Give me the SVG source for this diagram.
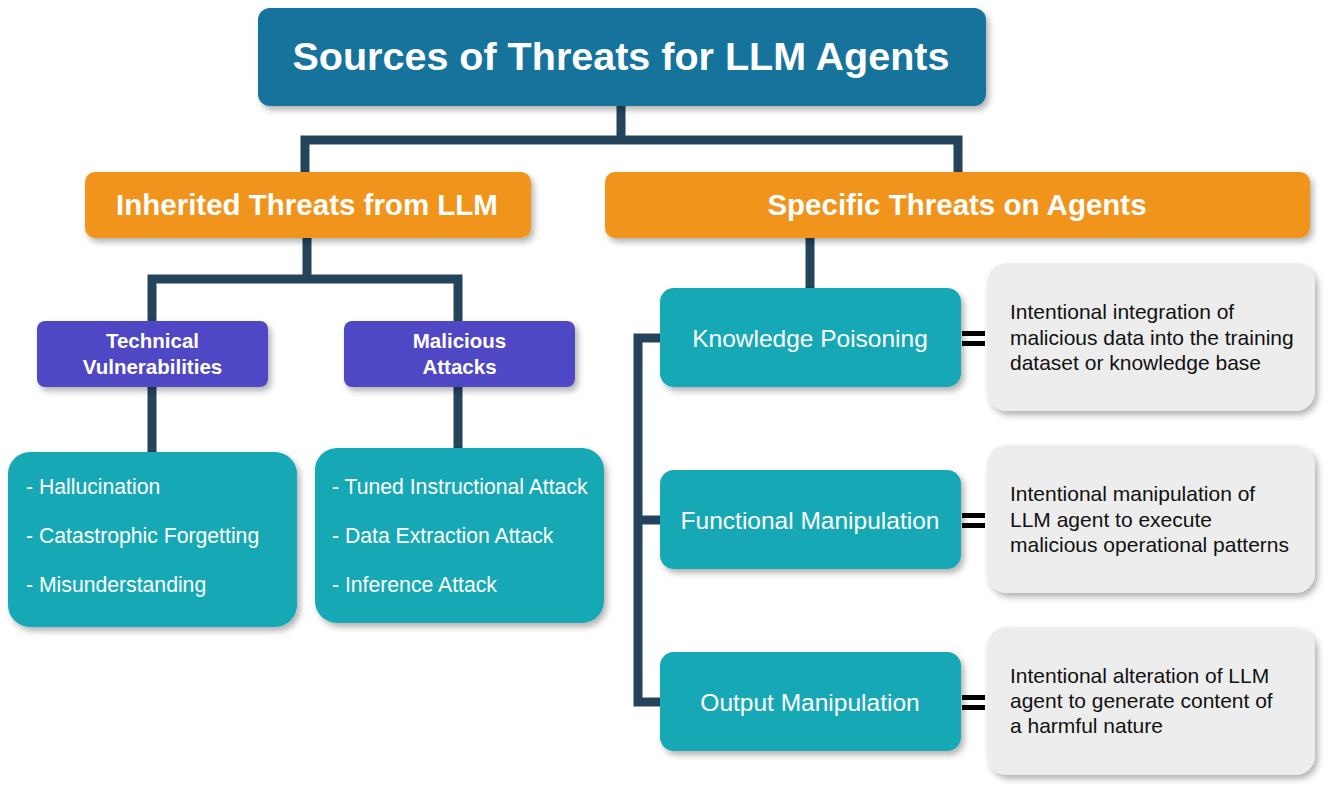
<svg xmlns="http://www.w3.org/2000/svg" width="1328" height="793" viewBox="0 0 1328 793">
<defs>
<filter id="sh" x="-10%" y="-10%" width="125%" height="135%">
<feDropShadow dx="3" dy="4" stdDeviation="3" flood-color="#000" flood-opacity="0.3"/>
</filter>
<style>
.t{font-family:"Liberation Sans",Arial,sans-serif;fill:#fff}
.b{font-weight:bold}
.c{text-anchor:middle}
.d{font-family:"Liberation Sans",Arial,sans-serif;fill:#111;font-size:21px}
.ln{fill:none;stroke:#24445c;stroke-width:9;stroke-linejoin:miter;stroke-linecap:butt}
.eq{fill:#000}
</style>
</defs>
<rect width="1328" height="793" fill="#fff"/>
<g id="connectors">
<path class="ln" d="M621 106 V140 M305 172 V140 H958 V172"/>
<path class="ln" d="M307 238 V279 M152 321 V279 H458 V321"/>
<path class="ln" d="M152 387 V452 M458 387 V448"/>
<path class="ln" d="M810 238 V288"/>
<path class="ln" d="M660 338 H638 V702 H660 M638 520 H660"/>
<rect class="eq" x="962" y="331" width="23" height="5"/>
<rect class="eq" x="962" y="341" width="23" height="5"/>
<rect class="eq" x="962" y="513" width="23" height="5"/>
<rect class="eq" x="962" y="523" width="23" height="5"/>
<rect class="eq" x="962" y="695" width="23" height="5"/>
<rect class="eq" x="962" y="705" width="23" height="5"/>
</g>
<g id="title">
<rect x="258" y="8" width="728" height="98" rx="12" fill="#13739c" filter="url(#sh)"/>
<text class="t b c" x="621" y="70" font-size="39.5">Sources of Threats for LLM Agents</text>
</g>
<g id="inherited">
<rect x="85" y="172" width="446" height="66" rx="10" fill="#f1941f" filter="url(#sh)"/>
<text class="t b c" x="307" y="215" font-size="29.5">Inherited Threats from LLM</text>
</g>
<g id="specific">
<rect x="605" y="172" width="705" height="66" rx="10" fill="#f1941f" filter="url(#sh)"/>
<text class="t b c" x="957" y="215" font-size="29.5">Specific Threats on Agents</text>
</g>
<g id="technical">
<rect x="37" y="321" width="231" height="66" rx="8" fill="#4f47c3" filter="url(#sh)"/>
<text class="t b c" x="152.5" y="348" font-size="20.5">Technical</text>
<text class="t b c" x="152.5" y="374" font-size="20.5">Vulnerabilities</text>
</g>
<g id="malicious">
<rect x="344" y="321" width="231" height="66" rx="8" fill="#4f47c3" filter="url(#sh)"/>
<text class="t b c" x="459.5" y="348" font-size="20.5">Malicious</text>
<text class="t b c" x="459.5" y="374" font-size="20.5">Attacks</text>
</g>
<g id="tech-list">
<rect x="8" y="452" width="289" height="175" rx="22" fill="#13a9b5" filter="url(#sh)"/>
<text class="t" x="26" y="494" font-size="21.2">- Hallucination</text>
<text class="t" x="26" y="543" font-size="21.2">- Catastrophic Forgetting</text>
<text class="t" x="26" y="592" font-size="21.2">- Misunderstanding</text>
</g>
<g id="mal-list">
<rect x="315" y="448" width="289" height="175" rx="22" fill="#13a9b5" filter="url(#sh)"/>
<text class="t" x="332" y="494" font-size="21.2">- Tuned Instructional Attack</text>
<text class="t" x="332" y="543" font-size="21.2">- Data Extraction Attack</text>
<text class="t" x="332" y="592" font-size="21.2">- Inference Attack</text>
</g>
<g id="knowledge">
<rect x="660" y="288" width="301" height="99" rx="14" fill="#13a9b5" filter="url(#sh)"/>
<text class="t c" x="810" y="347" font-size="24.5">Knowledge Poisoning</text>
</g>
<g id="knowledge-desc">
<rect x="987" y="263" width="328" height="148" rx="20" fill="#ededed" filter="url(#sh)"/>
<text class="d" x="1010" y="319">Intentional integration of</text>
<text class="d" x="1010" y="345">malicious data into the training</text>
<text class="d" x="1010" y="370">dataset or knowledge base</text>
</g>
<g id="functional">
<rect x="660" y="470" width="301" height="99" rx="14" fill="#13a9b5" filter="url(#sh)"/>
<text class="t c" x="810" y="529" font-size="24.5">Functional Manipulation</text>
</g>
<g id="functional-desc">
<rect x="987" y="445" width="328" height="148" rx="20" fill="#ededed" filter="url(#sh)"/>
<text class="d" x="1010" y="501">Intentional manipulation of</text>
<text class="d" x="1010" y="527">LLM agent to execute</text>
<text class="d" x="1010" y="552">malicious operational patterns</text>
</g>
<g id="output">
<rect x="660" y="652" width="301" height="99" rx="14" fill="#13a9b5" filter="url(#sh)"/>
<text class="t c" x="810" y="711" font-size="24.5">Output Manipulation</text>
</g>
<g id="output-desc">
<rect x="987" y="627" width="328" height="148" rx="20" fill="#ededed" filter="url(#sh)"/>
<text class="d" x="1010" y="683">Intentional alteration of LLM</text>
<text class="d" x="1010" y="708">agent to generate content of</text>
<text class="d" x="1010" y="733">a harmful nature</text>
</g>
</svg>
